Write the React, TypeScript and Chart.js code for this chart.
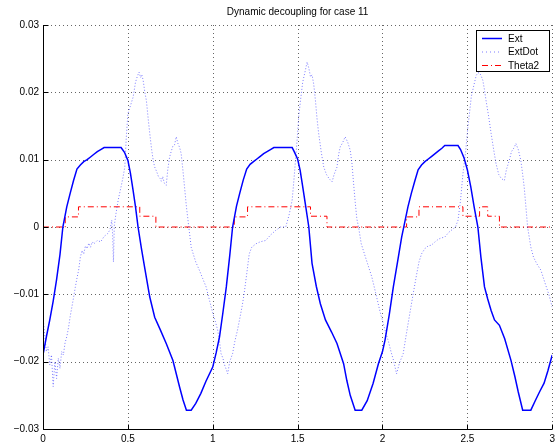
import React, { useEffect, useRef } from "react";
import { Chart, registerables } from "chart.js";

Chart.register(...registerables);

const titleText = "Dynamic decoupling for case 11";
const legendLabels = ["Ext", "ExtDot", "Theta2"];
const xTickLabels = ["0", "0.5", "1", "1.5", "2", "2.5", "3"];
const yTickLabels = ["\u22120.03", "\u22120.02", "\u22120.01", "0", "0.01", "0.02", "0.03"];

const extX = [
  0.0, 0.02, 0.04, 0.06, 0.08, 0.1, 0.117, 0.14, 0.16, 0.18, 0.2, 0.22, 0.24, 0.26, 0.28, 0.3, 0.32, 0.34, 0.36,
  0.46, 0.48, 0.5, 0.515, 0.531, 0.545, 0.56, 0.58, 0.6, 0.629, 0.658, 0.69, 0.726, 0.765, 0.785, 0.805, 0.825,
  0.845, 0.873, 0.9, 0.93, 0.96, 1.0, 1.02, 1.04, 1.06, 1.08, 1.1, 1.117, 1.14, 1.16, 1.18, 1.2, 1.22, 1.24, 1.26,
  1.28, 1.3, 1.32, 1.34, 1.36, 1.468, 1.48, 1.5, 1.515, 1.53, 1.545, 1.566, 1.585, 1.61, 1.634, 1.664, 1.7,
  1.732, 1.771, 1.79, 1.81, 1.839, 1.878, 1.91, 1.945, 1.976, 2.0, 2.015, 2.04, 2.064, 2.09, 2.113, 2.132, 2.15,
  2.17, 2.19, 2.21, 2.23, 2.25, 2.27, 2.29, 2.31, 2.33, 2.35, 2.367, 2.445, 2.46, 2.48, 2.5, 2.52, 2.54, 2.562,
  2.58, 2.601, 2.62, 2.64, 2.66, 2.689, 2.72, 2.757, 2.78, 2.80, 2.826, 2.874, 2.9, 2.925, 2.952, 2.975, 3.0,
];
const extY = [
  -0.019, -0.0163, -0.0138, -0.011, -0.0078, -0.0041, 0.0, 0.003, 0.005, 0.0069, 0.0086, 0.0092, 0.0097, 0.0100,
  0.0104, 0.0108, 0.0112, 0.0115, 0.0118, 0.0118, 0.0111, 0.0099, 0.0080, 0.0054, 0.0030, 0.0, -0.0032, -0.0062,
  -0.0104, -0.0134, -0.0152, -0.0173, -0.0198, -0.0218, -0.0238, -0.0257, -0.0272, -0.0272, -0.0262, -0.0247,
  -0.0229, -0.0208, -0.0187, -0.0163, -0.0127, -0.0089, -0.0043, 0.0, 0.0031, 0.0051, 0.0070, 0.0086, 0.0093,
  0.0097, 0.0101, 0.0105, 0.0109, 0.0112, 0.0115, 0.0118, 0.0118, 0.0112, 0.0101, 0.0084, 0.0060, 0.0035, 0.0,
  -0.0054, -0.0088, -0.0114, -0.0138, -0.0156, -0.0173, -0.0203, -0.0228, -0.0250, -0.0272, -0.0272, -0.0258,
  -0.0232, -0.0203, -0.0185, -0.0168, -0.0130, -0.0089, -0.0050, -0.0015, 0.0008, 0.0030, 0.0050, 0.0068,
  0.0085, 0.0092, 0.0097, 0.0101, 0.0105, 0.0109, 0.0113, 0.0117, 0.0121, 0.0121, 0.0115, 0.0103, 0.0085,
  0.0060, 0.0030, 0.0, -0.0045, -0.0089, -0.0107, -0.0124, -0.0138, -0.0146, -0.0166, -0.0198, -0.0222, -0.0245,
  -0.0272, -0.0272, -0.0258, -0.0245, -0.0232, -0.0213, -0.019,
];

const extDotX = [
  0.0, 0.01, 0.02, 0.03, 0.04, 0.05, 0.06, 0.07, 0.08, 0.09, 0.1, 0.11, 0.12, 0.13, 0.14, 0.15, 0.16, 0.17, 0.18,
  0.19, 0.2, 0.21, 0.22, 0.23, 0.24, 0.25, 0.26, 0.27, 0.28, 0.29, 0.3, 0.32, 0.34, 0.36, 0.38, 0.395, 0.405, 0.41,
  0.415, 0.42, 0.43, 0.443, 0.46, 0.47, 0.482, 0.49, 0.5, 0.515, 0.531, 0.545, 0.556, 0.566, 0.575, 0.582, 0.59,
  0.6, 0.609, 0.62, 0.629, 0.64, 0.65, 0.658, 0.67, 0.68, 0.69, 0.697, 0.705, 0.715, 0.726, 0.735, 0.746, 0.755,
  0.765, 0.775, 0.785, 0.795, 0.805, 0.814, 0.824, 0.834, 0.845, 0.859, 0.873, 0.885, 0.9, 0.921, 0.94, 0.961,
  0.98, 1.0, 1.015, 1.029, 1.04, 1.049, 1.06, 1.07, 1.08, 1.088, 1.1, 1.117, 1.13, 1.146, 1.16, 1.175, 1.185, 1.2,
  1.215, 1.23, 1.254, 1.28, 1.312, 1.34, 1.371, 1.4, 1.43, 1.45, 1.468, 1.48, 1.497, 1.507, 1.517, 1.53, 1.545,
  1.556, 1.566, 1.576, 1.585, 1.595, 1.605, 1.614, 1.624, 1.64, 1.654, 1.67, 1.685, 1.703, 1.715, 1.732, 1.742,
  1.751, 1.765, 1.78, 1.795, 1.81, 1.82, 1.83, 1.84, 1.849, 1.859, 1.875, 1.9, 1.937, 1.96, 1.985, 2.015, 2.035,
  2.05, 2.065, 2.083, 2.1, 2.122, 2.14, 2.16, 2.181, 2.2, 2.215, 2.23, 2.25, 2.27, 2.288, 2.31, 2.33, 2.35, 2.367,
  2.39, 2.41, 2.43, 2.445, 2.46, 2.474, 2.49, 2.503, 2.513, 2.523, 2.538, 2.552, 2.562, 2.572, 2.582, 2.591, 2.6,
  2.61, 2.625, 2.64, 2.655, 2.669, 2.685, 2.7, 2.718, 2.73, 2.747, 2.76, 2.776, 2.786, 2.8, 2.815, 2.825, 2.835,
  2.845, 2.855, 2.874, 2.89, 2.91, 2.933, 2.96, 2.98, 3.0,
];
const extDotY = [
  -0.0134, -0.016, -0.0185, -0.0178, -0.0205, -0.019, -0.0237, -0.02, -0.0225, -0.0195, -0.021, -0.0185, -0.019,
  -0.0172, -0.0163, -0.015, -0.0133, -0.0119, -0.0105, -0.009, -0.0076, -0.0064, -0.0045, -0.0035, -0.004,
  -0.0028, -0.0032, -0.0024, -0.003, -0.0022, -0.0025, -0.002, -0.0022, -0.0014, -0.001, -0.0004, 0.001, -0.001,
  -0.0052, 0.0002, 0.002, 0.004, 0.006, 0.0072, 0.0089, 0.013, 0.0168, 0.018, 0.0193, 0.0215, 0.0224, 0.023,
  0.0222, 0.0226, 0.0218, 0.02, 0.0188, 0.016, 0.0139, 0.0115, 0.0098, 0.0089, 0.0082, 0.0075, 0.0072, 0.0068,
  0.0075, 0.0065, 0.0062, 0.0085, 0.0104, 0.0112, 0.012, 0.0122, 0.0134, 0.0124, 0.0118, 0.0109, 0.0085, 0.0059,
  0.003, 0.0, -0.003, -0.004, -0.0052, -0.0064, -0.0076, -0.0089, -0.0108, -0.0128, -0.014, -0.0153, -0.017,
  -0.0188, -0.0195, -0.0205, -0.0212, -0.0218, -0.02, -0.0188, -0.017, -0.0153, -0.0135, -0.0115, -0.0099, -0.007,
  -0.004, -0.003, -0.0025, -0.0022, -0.002, -0.0012, -0.0005, 0.0, 0.0, 0.0018, 0.004, 0.0075, 0.0129, 0.0165,
  0.0188, 0.0215, 0.0232, 0.0245, 0.0236, 0.0223, 0.0226, 0.0212, 0.0188, 0.0162, 0.0139, 0.011, 0.0089, 0.0078,
  0.0072, 0.0067, 0.0078, 0.0089, 0.0108, 0.0119, 0.0125, 0.0134, 0.0126, 0.0114, 0.0095, 0.0064, 0.0035, 0.0012,
  0.0, -0.0025, -0.0045, -0.0074, -0.0098, -0.0125, -0.0153, -0.017, -0.0185, -0.0198, -0.0218, -0.0202, -0.0188,
  -0.016, -0.013, -0.0099, -0.0072, -0.0052, -0.004, -0.0032, -0.0028, -0.0027, -0.0022, -0.0018, -0.0016,
  -0.0015, -0.0008, -0.0004, 0.0, 0.001, 0.004, 0.0079, 0.0112, 0.0148, 0.017, 0.0193, 0.021, 0.0225, 0.0229,
  0.0229, 0.0224, 0.0218, 0.0205, 0.0188, 0.0165, 0.0139, 0.0115, 0.0094, 0.0078, 0.0072, 0.0069, 0.0085, 0.0099,
  0.0112, 0.0118, 0.0124, 0.0115, 0.0099, 0.008, 0.0059, 0.003, 0.0, -0.003, -0.0045, -0.0055, -0.0064, -0.0085,
  -0.01, -0.0119,
];

// Step function: each value holds from its x until the next x
const thetaX = [0.0, 0.131, 0.209, 0.57, 0.665, 1.127, 1.205, 1.576, 1.673, 2.142, 2.215, 2.474, 2.572, 2.62, 2.689, 3.0];
const thetaY = [0.0, 0.0015, 0.003, 0.0016, 0.0, 0.0015, 0.003, 0.0016, 0.0, 0.0015, 0.003, 0.0016, 0.003, 0.0016, 0.0, 0.0];

const FONT = "'Liberation Sans', Arial, Helvetica, sans-serif";

const toPoints = (xs: number[], ys: number[]) => xs.map((x, i) => ({ x, y: ys[i] }));

const decorPlugin = {
  id: "matlabDecor",
  beforeDatasetsDraw(chart: any) {
    const { ctx, chartArea, scales } = chart;
    const xs = scales.x;
    const ys = scales.y;
    ctx.save();
    ctx.strokeStyle = "rgba(0,0,0,0.6)";
    ctx.lineWidth = 1;
    ctx.setLineDash([1, 3]);
    xs.ticks.forEach((t: any) => {
      const px = Math.round(xs.getPixelForValue(t.value)) + 0.5;
      ctx.beginPath();
      ctx.moveTo(px, chartArea.top);
      ctx.lineTo(px, chartArea.bottom);
      ctx.stroke();
    });
    ys.ticks.forEach((t: any) => {
      const py = Math.round(ys.getPixelForValue(t.value)) + 0.5;
      ctx.beginPath();
      ctx.moveTo(chartArea.left, py);
      ctx.lineTo(chartArea.right, py);
      ctx.stroke();
    });
    ctx.restore();
  },
  afterDatasetsDraw(chart: any) {
    const { ctx, chartArea, scales } = chart;
    const xs = scales.x;
    const ys = scales.y;
    ctx.save();
    ctx.setLineDash([]);
    ctx.strokeStyle = "#000";
    ctx.lineWidth = 1;
    const left = Math.round(chartArea.left) + 0.5;
    const bottom = Math.round(chartArea.bottom) + 0.5;
    ctx.beginPath();
    ctx.moveTo(left, chartArea.top);
    ctx.lineTo(left, bottom);
    ctx.lineTo(chartArea.right, bottom);
    ctx.stroke();
    ys.ticks.forEach((t: any) => {
      const py = Math.round(ys.getPixelForValue(t.value)) + 0.5;
      ctx.beginPath();
      ctx.moveTo(left, py);
      ctx.lineTo(left + 5, py);
      ctx.stroke();
    });
    xs.ticks.forEach((t: any) => {
      const px = Math.round(xs.getPixelForValue(t.value)) + 0.5;
      ctx.beginPath();
      ctx.moveTo(px, bottom);
      ctx.lineTo(px, bottom - 5);
      ctx.stroke();
    });
    ctx.fillStyle = "#000";
    ctx.font = `10px ${FONT}`;
    ctx.textAlign = "center";
    ctx.textBaseline = "middle";
    ctx.fillText(titleText, (chartArea.left + chartArea.right) / 2, 12);
    const bx = 476.5, by = 30.5, bw = 73, bh = 41;
    ctx.fillStyle = "#fff";
    ctx.fillRect(bx, by, bw, bh);
    ctx.strokeStyle = "#000";
    ctx.lineWidth = 1;
    ctx.strokeRect(bx, by, bw, bh);
    const rows = [38.5, 52, 65.5];
    const styles = [
      { color: "#0000ff", dash: [] as number[], width: 1.5 },
      { color: "rgba(70,70,255,0.7)", dash: [1, 3], width: 1 },
      { color: "#ff0000", dash: [6, 3, 1, 3], width: 1 },
    ];
    rows.forEach((ry, i) => {
      const s = styles[i];
      ctx.strokeStyle = s.color;
      ctx.lineWidth = s.width;
      ctx.setLineDash(s.dash);
      ctx.beginPath();
      ctx.moveTo(482, ry);
      ctx.lineTo(502, ry);
      ctx.stroke();
      ctx.setLineDash([]);
      ctx.fillStyle = "#000";
      ctx.textAlign = "left";
      ctx.textBaseline = "middle";
      ctx.font = `10px ${FONT}`;
      ctx.fillText(legendLabels[i], 508, ry + 0.5);
    });
    ctx.restore();
  },
};

export default function App() {
  const canvasRef = useRef<HTMLCanvasElement | null>(null);

  useEffect(() => {
    document.body.style.margin = "0";
    const canvas = canvasRef.current;
    if (!canvas) return;
    const chart = new Chart(canvas, {
      type: "line",
      data: {
        datasets: [
          {
            label: legendLabels[0],
            data: toPoints(extX, extY),
            borderColor: "#0000ff",
            borderWidth: 1.5,
            pointRadius: 0,
            tension: 0,
            fill: false,
          },
          {
            label: legendLabels[1],
            data: toPoints(extDotX, extDotY),
            borderColor: "rgba(70,70,255,0.7)",
            borderWidth: 1,
            borderDash: [1, 2],
            pointRadius: 0,
            tension: 0,
            fill: false,
          },
          {
            label: legendLabels[2],
            data: toPoints(thetaX, thetaY),
            borderColor: "#ff0000",
            borderWidth: 1,
            borderDash: [6, 3, 1, 3],
            stepped: "before",
            pointRadius: 0,
            fill: false,
          },
        ],
      },
      options: {
        responsive: false,
        maintainAspectRatio: false,
        animation: false,
        devicePixelRatio: 1,
        layout: { padding: { top: 25, right: 4, left: 0, bottom: 0 } },
        plugins: {
          legend: { display: false },
          title: { display: false },
          tooltip: { enabled: false },
        },
        scales: {
          x: {
            type: "linear",
            min: 0,
            max: 3,
            ticks: {
              stepSize: 0.5,
              color: "#000",
              font: { family: FONT, size: 10 },
              padding: 4,
              maxRotation: 0,
              callback: (_v: any, i: number) => xTickLabels[i],
            },
            grid: { display: false, drawTicks: false },
            border: { display: false },
            afterFit: (s: any) => {
              s.height = 18;
            },
          },
          y: {
            type: "linear",
            min: -0.03,
            max: 0.03,
            ticks: {
              stepSize: 0.01,
              color: "#000",
              font: { family: FONT, size: 10 },
              padding: 4,
              callback: (_v: any, i: number) => yTickLabels[i],
            },
            grid: { display: false, drawTicks: false },
            border: { display: false },
            afterFit: (s: any) => {
              s.width = 43;
            },
          },
        },
      },
      plugins: [decorPlugin],
    } as any);
    return () => chart.destroy();
  }, []);

  return (
    <div style={{ position: "absolute", left: 0, top: 0, width: 559, height: 447 }}>
      <canvas ref={canvasRef} width={559} height={447} />
    </div>
  );
}
